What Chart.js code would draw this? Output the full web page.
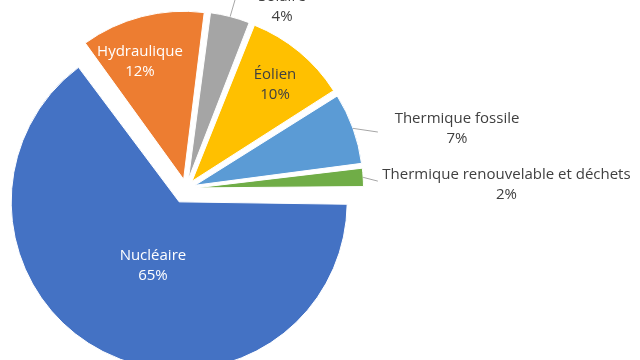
<!DOCTYPE html>
<html lang="fr">
<head>
    <meta charset="UTF-8">
    <title>Production d'électricité par filière</title>
    <script src="https://cdn.jsdelivr.net/npm/chart.js"></script>
    <style>
        * { margin: 0; padding: 0; box-sizing: border-box; }
        body { background: #fff; width: 640px; height: 360px; overflow: hidden; }
        canvas { display: block; }
    </style>
</head>
<body>
<canvas id="mix" width="640" height="360"></canvas>

<script>
    // Data (clockwise from the first slice)
    const categories = ['Solaire', 'Éolien', 'Thermique fossile', 'Thermique renouvelable et déchets', 'Nucléaire', 'Hydraulique'];
    const shares = [4, 10, 7, 2, 65, 12];

    // Styles
    const colors = ['#A5A5A5', '#FFC000', '#5B9BD5', '#70AD47', '#4472C4', '#ED7D31'];
    const textColors = ['#404040', '#404040', '#404040', '#404040', '#ffffff', '#ffffff'];
    const explode = [9.5, 9.5, 9.5, 9.5, 15, 9.5];          // px the slice is pulled out
    const PIE_RADIUS = 168;
    const FONT = '15px "Open Sans", "Noto Sans", sans-serif';

    // label placement: polar from pie centre, angle nudged from slice middle (deg)
    const labelPos = [
        { d: 206, a: 13.4, lead: { d: 198, a: 0.2 } },
        { d: 136.5, a: 1.1 },
        { d: 277.5, a: 7.4, lead: { d: 200, a: 3.4 } },
        { d: 320.5, a: 3, lead: { d: 192, a: 1.4 } },
        { d: 84, a: -3.8 },
        { d: 134.6, a: -5.6 }
    ];

    const rad = deg => deg * Math.PI / 180;

    // Chart.js grows the radius of offset arcs a bit; keep every slice at the same radius
    const keepRadius = {
        id: 'keepRadius',
        beforeDatasetsDraw(chart) {
            chart.getDatasetMeta(0).data.forEach(arc => {
                const t = (arc.options.offset || 0) / 4;
                const fix = 1 - Math.sin(Math.min(Math.PI, arc.circumference));
                arc.outerRadius = PIE_RADIUS - t * fix;
            });
        }
    };

    const sliceLabels = {
        id: 'sliceLabels',
        afterDatasetsDraw(chart) {
            const ctx = chart.ctx;
            ctx.save();
            ctx.font = FONT;
            ctx.textAlign = 'center';
            ctx.textBaseline = 'middle';
            chart.getDatasetMeta(0).data.forEach((arc, i) => {
                const mid = (arc.startAngle + arc.endAngle) / 2;
                const t = (arc.options.offset || 0) / 4;
                const p = labelPos[i];

                if (p.lead) {
                    const sx = arc.x + Math.cos(mid) * (t + PIE_RADIUS);
                    const sy = arc.y + Math.sin(mid) * (t + PIE_RADIUS);
                    const ea = mid + rad(p.lead.a);
                    ctx.strokeStyle = '#a6a6a6';
                    ctx.lineWidth = 1;
                    ctx.beginPath();
                    ctx.moveTo(sx, sy);
                    ctx.lineTo(arc.x + Math.cos(ea) * p.lead.d, arc.y + Math.sin(ea) * p.lead.d);
                    ctx.stroke();
                }

                const la = mid + rad(p.a);
                const lx = arc.x + Math.cos(la) * p.d;
                const ly = arc.y + Math.sin(la) * p.d;
                ctx.fillStyle = textColors[i];
                ctx.fillText(categories[i], lx, ly - 10);
                ctx.fillText(shares[i] + '%', lx, ly + 10);
            });
            ctx.restore();
        }
    };

    new Chart(document.getElementById('mix'), {
        type: 'pie',
        data: {
            labels: categories,
            datasets: [{
                data: shares,
                backgroundColor: colors,
                borderColor: '#ffffff',
                borderWidth: 1,
                offset: explode.map(v => v * 4)
            }]
        },
        options: {
            responsive: false,
            animation: false,
            events: [],
            rotation: 7.2,
            radius: PIE_RADIUS,
            layout: { padding: { left: 0, right: 268, top: 17, bottom: 0 } },
            plugins: {
                legend: { display: false },
                tooltip: { enabled: false }
            }
        },
        plugins: [keepRadius, sliceLabels]
    });
</script>
</body>
</html>
